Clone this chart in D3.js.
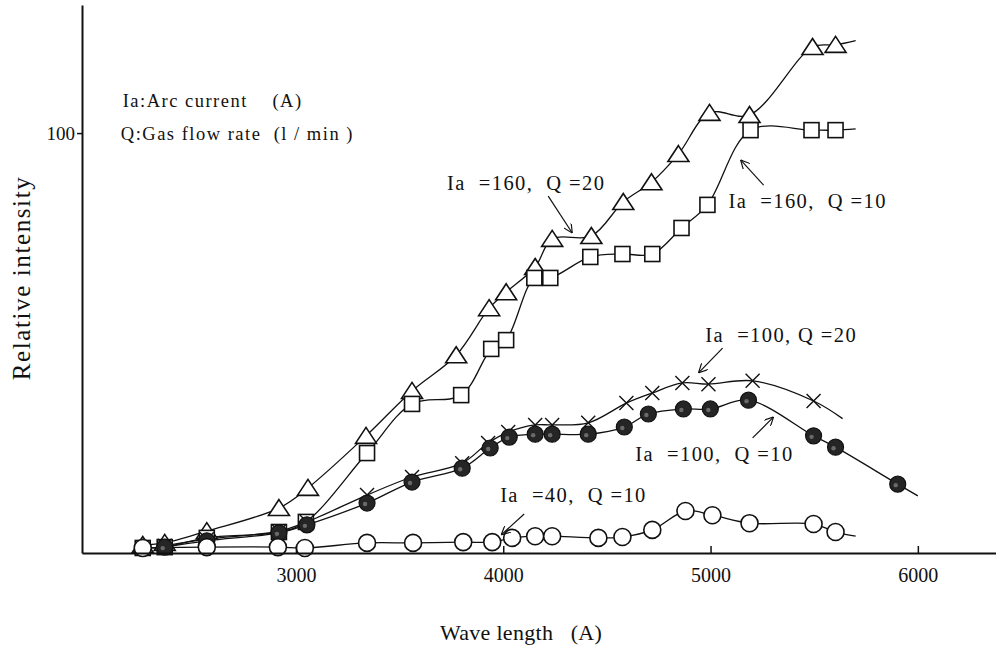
<!DOCTYPE html>
<html>
<head>
<meta charset="utf-8">
<script src="https://cdn.jsdelivr.net/npm/d3@7"></script>
<style>
  body { margin: 0; background: #fff; }
  svg { display: block; }
  text { font-family: "Liberation Serif", "DejaVu Serif", serif; fill: #111; white-space: pre; }
</style>
</head>
<body>
<div id="chart"></div>
<script>
// wave length (A) / relative intensity
const tri160q20X = [2261, 2367, 2570, 2918, 3058, 3338, 3560, 3773, 3932, 4014, 4154, 4236, 4425, 4579, 4715, 4845, 4995, 5188, 5492, 5603];
const tri160q20Y = [1.9, 2.4, 5.2, 10.7, 15.5, 27.9, 38.6, 47.1, 58.3, 62.1, 68.1, 74.8, 75.5, 83.6, 88.3, 95.0, 104.8, 104.3, 120.5, 121.0];
const tri160q20End = [5700, 122];

const sq160q10X = [2261, 2367, 2570, 2918, 3048, 3343, 3560, 3797, 3942, 4014, 4150, 4227, 4420, 4575, 4719, 4860, 4985, 5193, 5487, 5603];
const sq160q10Y = [1.2, 1.4, 3.6, 5.0, 7.4, 23.8, 35.5, 37.6, 48.6, 50.7, 65.5, 65.5, 70.5, 71.2, 71.2, 77.4, 82.9, 100.7, 100.7, 100.7];
const sq160q10End = [5700, 101];

const x100q20X = [2367, 2570, 2918, 3053, 3343, 3560, 3802, 3927, 4024, 4154, 4236, 4410, 4594, 4719, 4864, 4990, 5203, 5497];
const x100q20Y = [1.7, 3.3, 5.2, 7.4, 13.8, 18.1, 21.4, 26.2, 28.8, 30.5, 30.5, 31.0, 35.7, 38.1, 40.5, 40.2, 41.0, 36.2];
const x100q20End = [5637, 32];

const dot100q10X = [2367, 2570, 2918, 3053, 3343, 3560, 3802, 3937, 4029, 4154, 4236, 4410, 4584, 4700, 4869, 4999, 5183, 5497, 5603, 5903];
const dot100q10Y = [1.4, 2.9, 4.8, 6.7, 11.9, 16.9, 20.2, 25.0, 27.6, 28.3, 28.3, 28.3, 30.0, 33.1, 34.3, 34.3, 36.4, 27.9, 25.2, 16.4];
const dot100q10End = [6000, 13.6];

const o40q10X = [2261, 2570, 2913, 3043, 3343, 3565, 3807, 3947, 4043, 4154, 4236, 4459, 4575, 4719, 4879, 5009, 5188, 5497, 5603];
const o40q10Y = [1.2, 1.4, 1.4, 1.2, 2.4, 2.4, 2.6, 2.6, 3.6, 4.0, 4.0, 3.6, 3.8, 5.5, 10.0, 9.0, 7.1, 6.9, 5.0];
const o40q10End = [5700, 4];

const xTicks = [3000, 4000, 5000, 6000];
const yTicks = [100];

const seriesLabels = ['Ia  =160,  Q =20', 'Ia  =160,  Q =10', 'Ia  =100, Q =20', 'Ia  =100,  Q =10', 'Ia  =40,  Q =10'];
const legendLines = ['Ia:Arc current    (A)', 'Q:Gas flow rate  (l / min )'];

const width = 996, height = 646;
const svg = d3.select('#chart').append('svg')
  .attr('width', width)
  .attr('height', height);

const x = d3.scaleLinear().domain([1968, 6377]).range([82, 996]);
const y = d3.scaleLinear().domain([0, 130.5]).range([553, 5]);

const series = [
  { xs: tri160q20X, ys: tri160q20Y, end: tri160q20End, shape: 'tri' },
  { xs: sq160q10X, ys: sq160q10Y, end: sq160q10End, shape: 'sq' },
  { xs: x100q20X, ys: x100q20Y, end: x100q20End, shape: 'cross' },
  { xs: dot100q10X, ys: dot100q10Y, end: dot100q10End, shape: 'dot' },
  { xs: o40q10X, ys: o40q10Y, end: o40q10End, shape: 'circle' }
];

const line = d3.line()
  .x(d => x(d[0]))
  .y(d => y(d[1]))
  .curve(d3.curveCatmullRom.alpha(0.5));

// curves first, markers on top
series.forEach(s => {
  const pts = s.xs.map((v, i) => [v, s.ys[i]]).concat([s.end]);
  svg.append('path')
    .attr('d', line(pts))
    .attr('fill', 'none')
    .attr('stroke', '#111')
    .attr('stroke-width', 1.3);
});

series.forEach(s => {
  const g = svg.append('g');
  const pts = s.xs.map((v, i) => [v, s.ys[i]]);
  const m = g.selectAll('.m').data(pts).enter().append('g')
    .attr('transform', d => `translate(${x(d[0])},${y(d[1])})`);
  if (s.shape === 'tri') {
    m.append('path').attr('d', 'M0,-8.5 L10.5,7.5 L-10.5,7.5 Z')
      .attr('fill', '#fff').attr('stroke', '#111').attr('stroke-width', 1.6);
  } else if (s.shape === 'sq') {
    m.append('rect').attr('x', -7.5).attr('y', -7.5).attr('width', 15).attr('height', 15)
      .attr('fill', '#fff').attr('stroke', '#111').attr('stroke-width', 1.6);
  } else if (s.shape === 'cross') {
    m.append('path').attr('d', 'M-7,-7 L7,7 M7,-7 L-7,7')
      .attr('fill', 'none').attr('stroke', '#111').attr('stroke-width', 1.4);
  } else if (s.shape === 'dot') {
    m.append('circle').attr('r', 8)
      .attr('fill', '#252525').attr('stroke', '#111').attr('stroke-width', 1.2);
    m.append('circle').attr('r', 2.2).attr('cx', -2).attr('cy', 1)
      .attr('fill', '#6a6a6a');
  } else {
    m.append('circle').attr('r', 8.5)
      .attr('fill', '#fff').attr('stroke', '#111').attr('stroke-width', 1.6);
  }
});

// axes
const xAxis = svg.append('g').attr('transform', `translate(0,${y(0)})`)
  .call(d3.axisBottom(x).tickValues(xTicks).tickSizeInner(-7).tickSizeOuter(0).tickPadding(15).tickFormat(d3.format('d')));
xAxis.select('.domain').attr('stroke', '#111').attr('stroke-width', 2);
xAxis.selectAll('.tick line').attr('stroke', '#111').attr('stroke-width', 1.5);
xAxis.selectAll('.tick text')
  .attr('font-family', '"Liberation Serif", serif')
  .attr('font-size', 20).attr('fill', '#111');

const yAxis = svg.append('g').attr('transform', `translate(${x.range()[0]},0)`)
  .call(d3.axisLeft(y).tickValues(yTicks).tickSizeInner(5).tickSizeOuter(0).tickPadding(2).tickFormat(d3.format('d')));
yAxis.select('.domain').attr('stroke', '#111').attr('stroke-width', 2);
yAxis.selectAll('.tick line').attr('stroke', '#111').attr('stroke-width', 1.5);
yAxis.selectAll('.tick text')
  .attr('font-family', '"Liberation Serif", serif')
  .attr('font-size', 19).attr('fill', '#111');

// axis titles
svg.append('text')
  .attr('transform', `translate(30,${y(65.5)}) rotate(-90)`)
  .attr('text-anchor', 'middle')
  .attr('font-size', 25)
  .attr('letter-spacing', 1.6)
  .text('Relative intensity');

svg.append('text')
  .attr('x', 521).attr('y', 640)
  .attr('text-anchor', 'middle')
  .attr('font-size', 22)
  .attr('letter-spacing', 0.3)
  .text('Wave length   (A)');

// legend text
const legendPos = [[2164, 106.2], [2155, 98.3]];
legendLines.forEach((t, i) => {
  svg.append('text')
    .attr('x', x(legendPos[i][0])).attr('y', y(legendPos[i][1]))
    .attr('font-size', 18.5)
    .attr('letter-spacing', 1.5)
    .text(t);
});

// series labels with arrows
const labelPos = [[3729, 86.4], [5087, 82.1], [4975, 50.2], [4637, 21.9], [3985, 12.1]];
const arrows = [
  [[4217, 85.0], [4333, 76.2]],
  [[5256, 87.6], [5145, 93.6]],
  [[5058, 48.8], [4942, 42.9]],
  [[5203, 27.4], [5304, 32.4]],
  [[4101, 9.3], [3990, 4.3]]
];

svg.append('defs').append('marker')
  .attr('id', 'ah')
  .attr('viewBox', '0 0 10 10')
  .attr('refX', 10).attr('refY', 5)
  .attr('markerWidth', 9).attr('markerHeight', 9)
  .attr('markerUnits', 'userSpaceOnUse')
  .attr('orient', 'auto')
  .append('path')
  .attr('d', 'M0,0 L10,5 L0,10')
  .attr('fill', 'none')
  .attr('stroke', '#111')
  .attr('stroke-width', 1.3);

seriesLabels.forEach((t, i) => {
  svg.append('text')
    .attr('x', x(labelPos[i][0])).attr('y', y(labelPos[i][1]))
    .attr('font-size', 20.5)
    .attr('letter-spacing', 1.4)
    .text(t);
  const a = arrows[i];
  svg.append('line')
    .attr('x1', x(a[0][0])).attr('y1', y(a[0][1]))
    .attr('x2', x(a[1][0])).attr('y2', y(a[1][1]))
    .attr('stroke', '#111')
    .attr('stroke-width', 1.2)
    .attr('marker-end', 'url(#ah)');
});
</script>
</body>
</html>
